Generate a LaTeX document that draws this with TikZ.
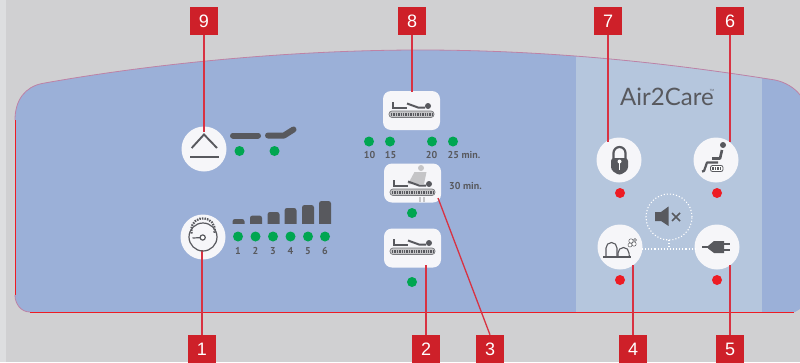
\documentclass[tikz,border=0pt]{standalone}
\usepackage{fontspec}
\setmainfont{Liberation Sans}
\newfontfamily\ptsans{PT Sans}
\newfontfamily\latofont{Lato}
\usetikzlibrary{calc}
\definecolor{bggray}{RGB}{208,208,210}
\definecolor{stripgray}{RGB}{221,222,224}
\definecolor{panelblue}{RGB}{155,176,216}
\definecolor{panellight}{RGB}{181,198,221}
\definecolor{tagred}{RGB}{206,32,41}
\definecolor{leadred}{RGB}{216,50,66}
\definecolor{ledgreen}{RGB}{0,166,81}
\definecolor{ledred}{RGB}{237,28,36}
\definecolor{icongray}{RGB}{88,89,94}
\definecolor{btnwhite}{RGB}{246,246,249}
\definecolor{edgepink}{RGB}{190,130,165}
\tikzset{
  tag/.style={fill=tagred,text=white,minimum width=28pt,minimum height=28pt,inner sep=0pt,font=\fontsize{18}{18}\selectfont},
  lead/.style={draw=leadred,line width=1.3pt},
  roundbtn/.style={circle,fill=btnwhite,minimum size=45pt,inner sep=0pt},
  squarebtn/.style={rectangle,rounded corners=8pt,fill=btnwhite,minimum width=57pt,minimum height=39pt,inner sep=0pt},
  gled/.style={circle,fill=ledgreen,minimum size=10pt,inner sep=0pt},
  rled/.style={circle,fill=ledred,minimum size=10pt,inner sep=0pt},
  lbl/.style={text=icongray,inner sep=0pt,font=\ptsans\bfseries\fontsize{10}{10}\selectfont},
  hole/.style={draw=white,line width=1.1pt,dotted},
}
\newcommand{\bedicon}[2]{% #1 x of button left, #2 y of bar top
  \draw[icongray!80,line width=.7pt,rounded corners=3pt,fill=icongray!35] (#1+6,#2) rectangle (#1+51,#2+6.5);
  \draw[icongray,line width=3pt,dash pattern=on 1.3pt off 1.1pt] (#1+8,#2+3.2) -- (#1+49,#2+3.2);
  \fill[icongray] (#1+45,#2-5) circle (3pt);
  \draw[icongray,line width=2pt] (#1+10,#2-9) -- (#1+10,#2-3.5) -- (#1+24,#2-3.5);
  \draw[icongray,line width=2pt] (#1+24,#2-7.5) -- (#1+35,#2-3.5) -- (#1+42,#2-3.5);
}
\begin{document}
\begin{tikzpicture}[x=1pt,y=-1pt]
\useasboundingbox (0,0) rectangle (800,362);
\fill[bggray] (0,0) rectangle (800,362);
\fill[stripgray] (0,0) rectangle (6,362);
% panel
\def\panelpath{(30,312) .. controls (21,312) and (15,304) .. (15,295) -- (15,120) .. controls (15,100) and (25,87) .. (42,83.5)
  .. controls (150,64) and (290,50) .. (420,50)
  .. controls (560,50) and (680,65) .. (775,80)
  .. controls (785,82) and (795,88) .. (800,95) -- (800,309) -- (795,312) -- cycle}
\fill[panelblue] \panelpath;
\begin{scope}
\clip \panelpath;
\fill[panellight] (576,40) rectangle (762,312);
\end{scope}
\draw[edgepink,line width=.8pt] (15,120) .. controls (15,100) and (25,87) .. (42,83.5)
  .. controls (150,64) and (290,50) .. (420,50)
  .. controls (560,50) and (680,65) .. (775,80)
  .. controls (785,82) and (795,88) .. (800,95);
\draw[edgepink,line width=.8pt] (15,295) .. controls (15,304) and (21,312) .. (30,312);
\draw[ledred,line width=.9pt] (30,312) -- (794,312);
\draw[ledred,line width=.9pt] (15,295) -- (15,120);
% round buttons
\node[roundbtn] (b9) at (204,149) {};
\node[roundbtn] (b1) at (203,237) {};
\node[roundbtn] (b7) at (619,160) {};
\node[roundbtn] (b6) at (716,160) {};
\node[roundbtn] (b4) at (620,247) {};
\node[roundbtn] (b5) at (717,247) {};
% square buttons
\node[squarebtn] (b8) at (411.5,110.5) {};
\node[squarebtn] (b3) at (412.5,183) {};
\node[squarebtn] (b2) at (412.5,248) {};
% tags
\node[tag] (t9) at (204,21) {9};
\node[tag] (t8) at (412,21) {8};
\node[tag] (t7) at (608,21) {7};
\node[tag] (t6) at (730,21) {6};
\node[tag] (t1) at (202,349) {1};
\node[tag] (t2) at (426,349) {2};
\node[tag] (t3) at (490,349) {3};
\node[tag] (t4) at (633,349) {4};
\node[tag] (t5) at (730,349) {5};
% connector ends
\coordinate (e9) at (204,132);
\coordinate (e8) at (412,92);
\coordinate (e7) at (608,142);
\coordinate (e6) at (730,142);
\coordinate (e1) at (202,250);
\coordinate (e2) at (426,265);
\coordinate (e3) at (438,198);
\coordinate (e4) at (633,265);
\coordinate (e5) at (730,265);
\draw[lead] (t9.south) -- (e9);
\draw[lead] (t8.south) -- (e8);
\draw[lead] (t7.south) -- (e7);
\draw[lead] (t6.south) -- (e6);
\draw[lead] (t1.north) -- (e1);
\draw[lead] (t2.north) -- (e2);
\draw[lead] (t3.north) -- (e3);
\draw[lead] (t4.north) -- (e4);
\draw[lead] (t5.north) -- (e5);
% icon 9
\draw[icongray,line width=1.9pt] (191.7,148) -- (204,134.5) -- (217,148);
\draw[icongray,line width=1.9pt] (190,157) -- (219,157);
\draw[icongray,line width=6pt,line cap=round] (233,135.5) -- (258,135.5);
\draw[icongray,line width=6pt,line cap=round,line join=round] (268,135.5) -- (284,135.5) -- (293.5,129.5);
\node[gled] (g1) at (239.5,151) {};
\node[gled] (g2) at (274.5,151) {};
% icon 1 dial
\draw[icongray,line width=1.2pt] (203,237) circle (14pt);
\draw[icongray,line width=2.2pt,dash pattern=on 1.5pt off 1.1pt] (191.7,233.5) arc (197:-17:11.8pt);
\draw[icongray,line width=1.2pt,fill=white] (202.7,237.5) circle (2.6pt);
\draw[icongray,line width=1.2pt] (192.5,238) -- (200,237.7);
% level bars
\foreach \x/\t in {232.5/219,250/215.5,267.5/212,284.5/208,302/205,319/201}{
  \path[fill=icongray,rounded corners=2.5pt] (\x,\t) -- (\x+12,\t) -- (\x+12,230) -- (\x,230) -- cycle;
  \fill[panelblue] (\x-1,224) rectangle (\x+13,232);
}
\foreach \x/\n in {238/1,255.5/2,273/3,290.5/4,308/5,325/6}{
  \node[gled] (lv\n) at (\x,236.5) {};
  \node[lbl] (ln\n) at (\x,251) {\n};
}
% timers
\node[gled] (g10) at (369,141.5) {};
\node[gled] (g15) at (390,141.5) {};
\node[gled] (g20) at (432,141.5) {};
\node[gled] (g25) at (453,141.5) {};
\node[lbl] (l10) at (369.5,155) {10};
\node[lbl] (l15) at (390.5,155) {15};
\node[lbl] (l20) at (431.5,155) {20};
\node[lbl,anchor=west] (l25) at (447.5,155) {25 min.};
\node[lbl,anchor=west] (l30) at (449,186) {30 min.};
\node[gled] (g3) at (412,213) {};
\node[gled] (g2b) at (412,282) {};
% bed icons
\bedicon{383}{111}
\fill[icongray!35] (421,168) circle (3pt);
\fill[icongray!35] (414.5,172) -- (426.5,172) -- (424,184) -- (408,184) -- cycle;
\fill[icongray!35] (419,197) rectangle (421,201.5);
\fill[icongray!35] (422.5,197) rectangle (424.5,201.5);
\bedicon{384}{189}
\bedicon{384}{248}
% lock
\draw[icongray,line width=2.2pt] (613.5,160) -- (613.5,153) arc (180:0:6pt) -- (625.5,160);
\fill[icongray,rounded corners=3pt] (611,158) -- (628,158) -- (628,170) -- (619.5,175.5) -- (611,170) -- cycle;
\fill[white] (619.5,161.5) circle (2pt);
\fill[white] (618.6,162) rectangle (620.4,170);
% seat
\fill[icongray] (723,145) circle (3pt);
\draw[icongray,line width=2.6pt,line join=round] (722,150) -- (720,158.5) -- (712,158.5);
\draw[icongray,line width=2.2pt,line join=round] (718,162.5) -- (707,162.5) -- (704,171) -- (702,171.5);
\draw[icongray,line width=.8pt,rounded corners=2pt,fill=white] (710.5,165.5) rectangle (723,171.5);
\draw[icongray,line width=3pt,dash pattern=on 1.6pt off 1pt] (712,168.5) -- (722,168.5);
% speaker
\fill[icongray] (655,212) -- (661,212) -- (668.5,206.5) -- (668.5,226) -- (661,221) -- (655,221) -- cycle;
\draw[icongray,line width=1.7pt] (672,213) -- (680,221) (680,213) -- (672,221);
\draw[hole] (669,217) circle (23pt);
\draw[hole] (642,249) -- (695,249);
\draw[hole] (669,240) -- (669,249);
% arches
\draw[icongray,line width=1.1pt] (603,257) -- (631,257);
\draw[icongray,line width=1.1pt] (606,257) -- (606,248) arc (180:0:5.5pt) -- (617,257);
\draw[icongray,line width=1.1pt] (618,257) -- (618,253) arc (180:0:5.5pt) .. controls (629,254) and (629,256) .. (630,257);
\foreach \p/\r in {{(631,241)}/2.2,{(634,244)}/2.2,{(630,245)}/2,{(635,240)}/1.5}{
  \draw[icongray,line width=.5pt,fill=white] \p circle (\r pt);
}
% plug
\fill[icongray] (714,241) -- (724,241) -- (724,253) -- (714,253) -- (708,248.5) -- (708,246) -- cycle;
\draw[icongray,line width=1.3pt] (702,247) -- (709,247);
\draw[icongray,line width=1.4pt] (724,244) -- (730,244) (724,250) -- (730,250);
% red leds
\node[rled] (r7) at (620,193) {};
\node[rled] (r6) at (717,193) {};
\node[rled] (r4) at (620,280) {};
\node[rled] (r5) at (717,280) {};
% logo
\node[text=icongray,inner sep=0pt,anchor=west,font=\latofont\fontsize{24}{24}\selectfont] (logo) at (620,97) {Air2Care};
\node[text=icongray,inner sep=0pt,font=\fontsize{3}{3}\selectfont] (tm) at (712,90) {TM};
\end{tikzpicture}
\end{document}
